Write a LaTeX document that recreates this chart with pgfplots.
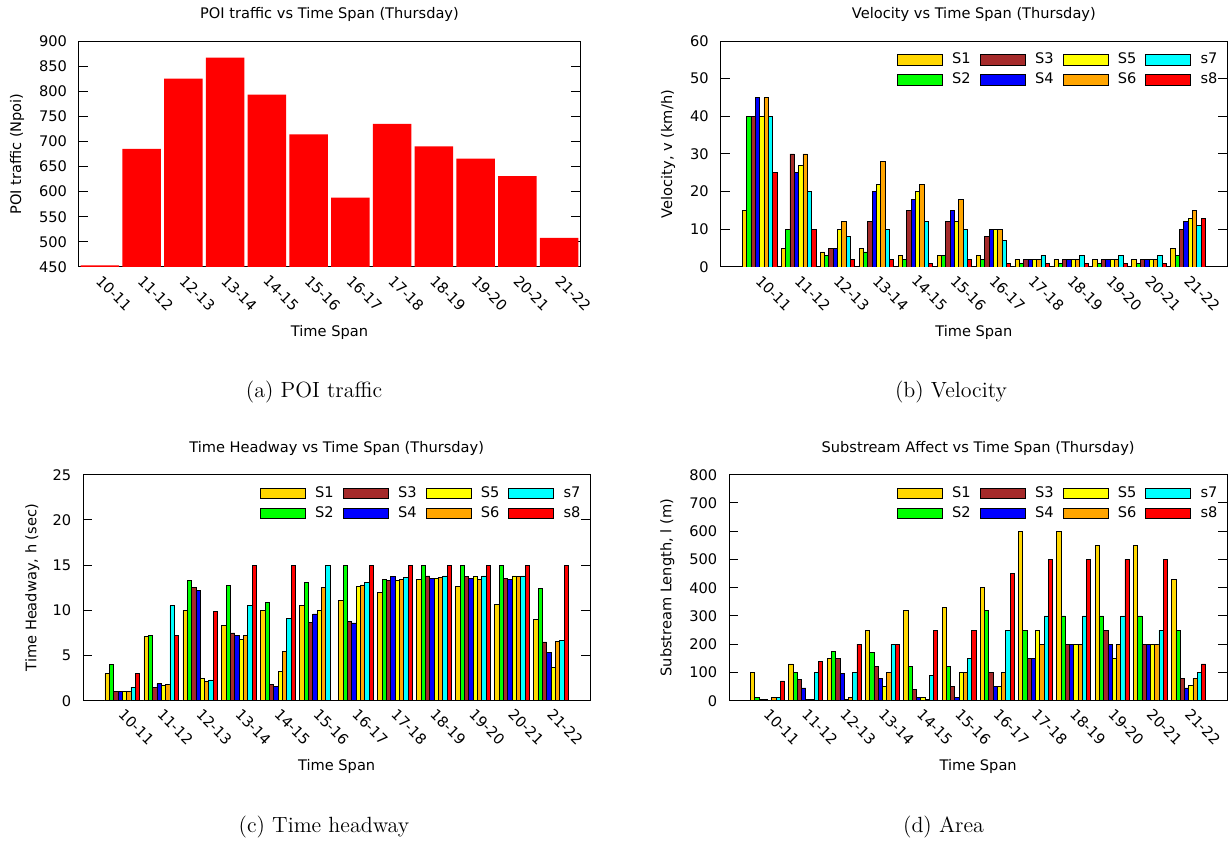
\documentclass[border=0pt]{standalone}
\usepackage{fontspec}
\usepackage{pgfplots}
\pgfplotsset{compat=1.18}
\usepackage{pgfplotstable}
\newfontfamily\gpf{DejaVu Sans}
\newcommand\gp{\gpf\fontsize{7.3}{8.5}\selectfont}
\definecolor{cS1}{HTML}{FFD700}
\definecolor{cS2}{HTML}{00FF00}
\definecolor{cS3}{HTML}{A52A2A}
\definecolor{cS4}{HTML}{0000FF}
\definecolor{cS5}{HTML}{FFFF00}
\definecolor{cS6}{HTML}{FFA500}
\definecolor{cS7}{HTML}{00FFFF}
\definecolor{cS8}{HTML}{FF0000}

\pgfplotstableread{
x y
0 453
1 685
2 825
3 867
4 793
5 714
6 588
7 735
8 690
9 666
10 631
11 508
}\poi

\pgfplotstableread{
x S1 S2 S3 S4 S5 S6 s7 s8
0 15 40 40 45 40 45 40 25
1 5 10 30 25 27 30 20 10
2 4 3 5 5 10 12 8 2
3 5 4 12 20 22 28 10 2
4 3 2 15 18 20 22 12 1
5 3 3 12 15 12 18 10 2
6 3 2 8 10 10 10 7 1
7 2 1 2 2 2 2 3 1
8 2 1 2 2 2 2 3 1
9 2 1 2 2 2 2 3 1
10 2 1 2 2 2 2 3 1
11 5 3 10 12 13 15 11 13
}\velo

\pgfplotstableread{
x S1 S2 S3 S4 S5 S6 s7 s8
0 3 4 1 1 1 1 1.5 3
1 7.1 7.2 1.5 1.9 1.7 1.8 10.5 7.2
2 10 13.3 12.5 12.2 2.5 2.1 2.3 9.9
3 8.3 12.7 7.5 7.2 6.8 7.2 10.5 15
4 10 10.9 1.8 1.6 3.2 5.4 9.1 15
5 10.5 13.1 8.7 9.6 10 12.5 15 0
6 11.1 15 8.8 8.6 12.6 12.8 13.1 15
7 12 13.4 13.3 13.7 13.3 13.4 13.6 15
8 13.4 15 13.8 13.5 13.5 13.6 13.8 15
9 12.6 15 13.7 13.5 13.7 13.4 13.8 15
10 10.6 15 13.5 13.4 13.8 13.7 13.8 15
11 9 12.4 6.5 5.3 3.7 6.6 6.7 15
}\headway

\pgfplotstableread{
x S1 S2 S3 S4 S5 S6 s7 s8
0 100 10 4 4 2 10 10 70
1 130 100 75 45 3 5 100 140
2 150 175 150 95 5 10 100 200
3 250 170 120 80 50 100 200 200
4 320 120 40 10 10 5 90 250
5 330 120 50 10 100 100 150 250
6 400 320 100 50 50 100 250 450
7 600 250 150 150 250 200 300 500
8 600 300 200 200 200 200 300 500
9 550 300 250 200 150 200 300 500
10 550 300 200 200 200 200 250 500
11 430 250 80 45 55 80 100 130
}\area

\pgfplotsset{
  gpaxis/.style={
    scale only axis,
    height=113pt,
    axis line style={line width=0.5pt},
    tick style={line width=0.5pt, black},
    major tick length=4.5pt,
    xtick style={draw=none},
    xtick={0,...,11},
    xticklabels={10-11,11-12,12-13,13-14,14-15,15-16,16-17,17-18,18-19,19-20,20-21,21-22},
    xticklabel style={xshift=1.5pt, yshift=-2pt, rotate=-45, anchor=north west, font=\gp, inner sep=1pt},
    yticklabel style={font=\gp, xshift=-2.5pt},
    /pgf/number format/assume math mode=true,
    title style={font=\gp, at={(axis description cs:0.5,1)}, anchor=center, yshift=7.2pt},
    xlabel style={font=\gp, at={(axis description cs:0.5,0)}, anchor=center, yshift=-32.8pt},
    ylabel style={font=\gp, anchor=center},
    xlabel={Time Span},
  },
  gpleg/.style={
    legend columns=4,
    legend cell align=left,
    legend image code/.code={\draw[##1] (0pt,-2.6pt) rectangle (22.5pt,2.6pt);},
    legend style={draw=none, fill=none, at={(rel axis cs:1,1)}, anchor=north east,
      xshift=-4pt, yshift=-5.8pt, inner sep=0pt, column sep=4.75pt, row sep=3pt,
      font=\gp, nodes={inner sep=0pt, text width=9pt, align=left}},
  },
  gpbar/.style 2 args={ybar, bar width=0.1111, bar shift=#2, fill=#1, draw=black, line width=0.4pt, forget plot},
}

\newcommand\legendeight{%
  \addlegendimage{fill=cS1, draw=black, line width=0.4pt}\addlegendentry{S1}
  \addlegendimage{fill=cS3, draw=black, line width=0.4pt}\addlegendentry{S3}
  \addlegendimage{fill=cS5, draw=black, line width=0.4pt}\addlegendentry{S5}
  \addlegendimage{fill=cS7, draw=black, line width=0.4pt}\addlegendentry{s7}
  \addlegendimage{fill=cS2, draw=black, line width=0.4pt}\addlegendentry{S2}
  \addlegendimage{fill=cS4, draw=black, line width=0.4pt}\addlegendentry{S4}
  \addlegendimage{fill=cS6, draw=black, line width=0.4pt}\addlegendentry{S6}
  \addlegendimage{fill=cS8, draw=black, line width=0.4pt}\addlegendentry{s8}
}
\newcommand\barseight[1]{%
  \addplot[gpbar={cS1}{-0.3889}] table[x=x,y=S1] {#1};
  \addplot[gpbar={cS2}{-0.2778}] table[x=x,y=S2] {#1};
  \addplot[gpbar={cS3}{-0.1667}] table[x=x,y=S3] {#1};
  \addplot[gpbar={cS4}{-0.0556}] table[x=x,y=S4] {#1};
  \addplot[gpbar={cS5}{0.0556}] table[x=x,y=S5] {#1};
  \addplot[gpbar={cS6}{0.1667}] table[x=x,y=S6] {#1};
  \addplot[gpbar={cS7}{0.2778}] table[x=x,y=s7] {#1};
  \addplot[gpbar={cS8}{0.3889}] table[x=x,y=s8] {#1};
}

\begin{document}
\begin{tikzpicture}
\path[use as bounding box] (0,0) rectangle (615.5pt,420.5pt);

% (a)
\begin{axis}[gpaxis, at={(39.5pt,287pt)}, anchor=south west, width=250.5pt,
  xmin=-0.5, xmax=11.5, ymin=450, ymax=900, ytick={450,500,...,900},
  title={POI traffic vs Time Span (Thursday)},
  ylabel={POI traffic (Npoi)},
  ylabel style={at={(axis description cs:-0.1238,0.5)}}]
\addplot[ybar, bar width=0.92, fill=cS8, draw=none, forget plot] table[x=x,y=y] {\poi};
\end{axis}

% (b)
\begin{axis}[gpaxis, gpleg, at={(360.35pt,287pt)}, anchor=south west, width=253.15pt,
  xmin=-1, xmax=12, ymin=0, ymax=60, ytick={0,10,...,60},
  title={Velocity vs Time Span (Thursday)},
  ylabel={Velocity, v (km/h)},
  ylabel style={at={(axis description cs:-0.1041,0.5)}}]
\barseight{\velo}
\legendeight
\end{axis}

% (c)
\begin{axis}[gpaxis, gpleg, at={(41.65pt,70.15pt)}, anchor=south west, width=253.35pt,
  xmin=-1, xmax=12, ymin=0, ymax=25, ytick={0,5,...,25},
  title={Time Headway vs Time Span (Thursday)},
  ylabel={Time Headway, h (sec)},
  ylabel style={at={(axis description cs:-0.1007,0.5)}}]
\barseight{\headway}
\legendeight
\end{axis}

% (d)
\begin{axis}[gpaxis, gpleg, at={(364.65pt,70.15pt)}, anchor=south west, width=248.85pt,
  xmin=-1, xmax=12, ymin=0, ymax=800, ytick={0,100,...,800},
  title={Substream Affect vs Time Span (Thursday)},
  ylabel={Substream Length, l (m)},
  ylabel style={at={(axis description cs:-0.1246,0.5)}}]
\barseight{\area}
\legendeight
\end{axis}

\node[font=\fontsize{11}{13}\selectfont, anchor=base] at (157pt,221.5pt) {(a) POI traffic};
\node[font=\fontsize{11}{13}\selectfont, anchor=base] at (475.5pt,221.5pt) {(b) Velocity};
\node[font=\fontsize{11}{13}\selectfont, anchor=base] at (162pt,4.5pt) {(c) Time headway};
\node[font=\fontsize{11}{13}\selectfont, anchor=base] at (471.75pt,4.5pt) {(d) Area};
\end{tikzpicture}
\end{document}
